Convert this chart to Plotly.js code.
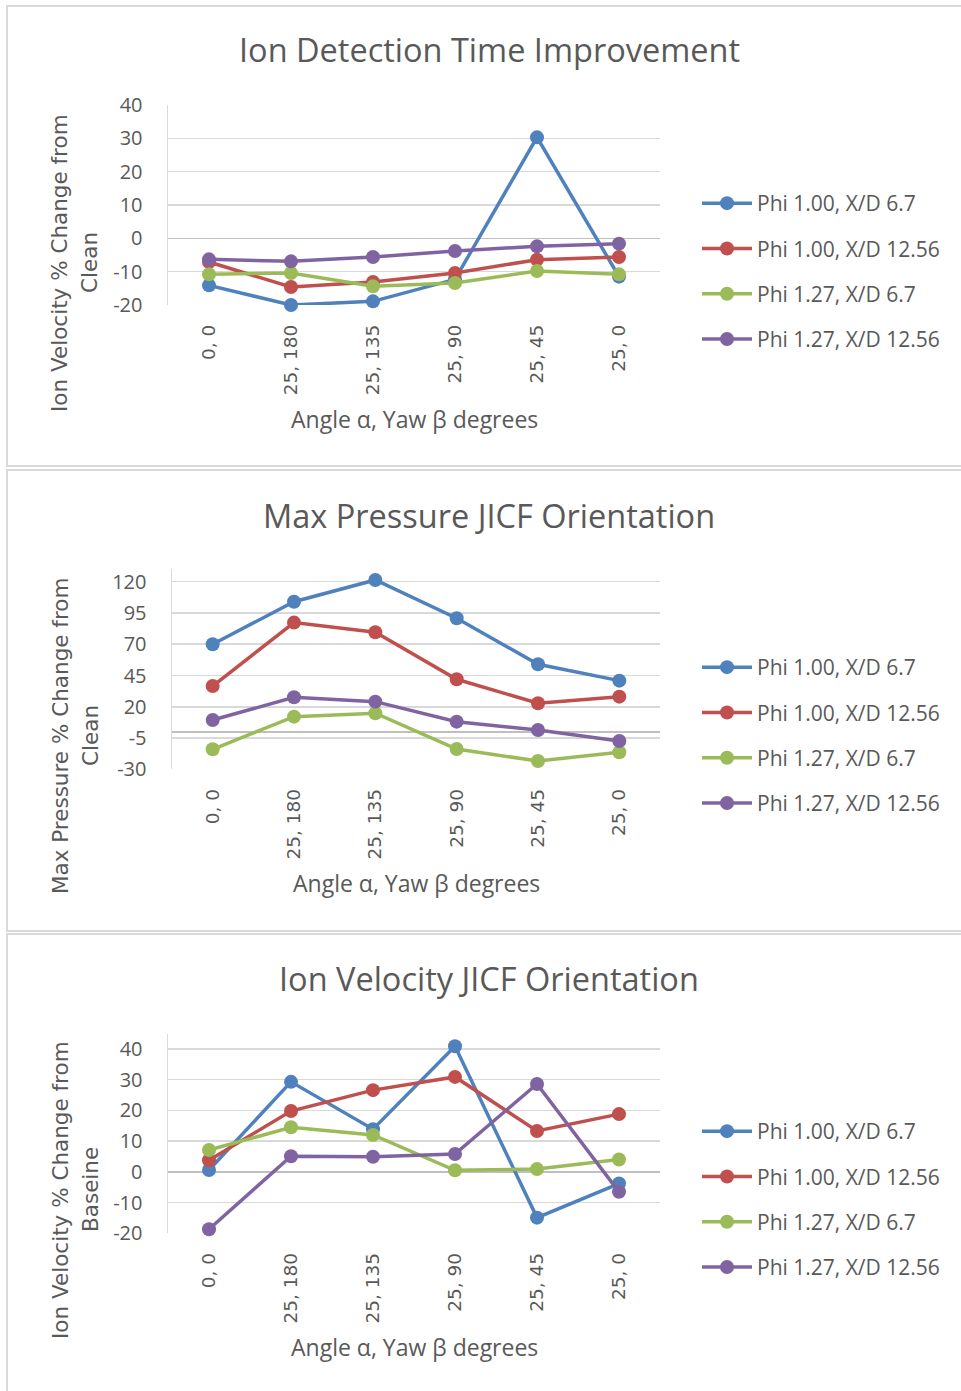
<!DOCTYPE html>
<html>
<head>
<meta charset="utf-8">
<script src="https://cdn.plot.ly/plotly-3.0.1.min.js"></script>
<style>
html,body{margin:0;padding:0;background:#fff;overflow:hidden;}
#chart{width:961px;height:1391px;}
</style>
</head>
<body>
<div id="chart"></div>
<script>
// ---------- data ----------
const categories = ["0, 0", "25, 180", "25, 135", "25, 90", "25, 45", "25, 0"];
const seriesNames = ["Phi 1.00, X/D 6.7", "Phi 1.00, X/D 12.56", "Phi 1.27, X/D 6.7", "Phi 1.27, X/D 12.56"];
const seriesColors = ["#4F81BD", "#C0504D", "#9BBB59", "#8064A2"];

const chartTitles = ["Ion Detection Time Improvement", "Max Pressure JICF Orientation", "Ion Velocity JICF Orientation"];
const yTitleLine1 = ["Ion Velocity % Change from", "Max Pressure % Change from", "Ion Velocity % Change from"];
const yTitleLine2 = ["Clean", "Clean", "Baseine"];
const xTitle = "Angle α, Yaw β degrees";

// Ion Detection Time Improvement
const idt_phi100_xd67   = [-14.1, -20.0, -18.9, -12.3, 30.3, -11.5];
const idt_phi100_xd1256 = [-7.1, -14.6, -13.1, -10.4, -6.4, -5.6];
const idt_phi127_xd67   = [-10.8, -10.4, -14.4, -13.4, -9.8, -10.8];
const idt_phi127_xd1256 = [-6.3, -6.9, -5.6, -3.8, -2.4, -1.6];

// Max Pressure JICF Orientation
const mp_phi100_xd67   = [70.0, 104.0, 121.4, 90.8, 54.0, 40.9];
const mp_phi100_xd1256 = [36.6, 87.3, 79.6, 42.0, 22.8, 28.1];
const mp_phi127_xd67   = [-14.0, 12.1, 14.8, -13.8, -23.4, -16.4];
const mp_phi127_xd1256 = [9.4, 27.6, 24.1, 8.1, 1.4, -7.4];

// Ion Velocity JICF Orientation
const iv_phi100_xd67   = [0.6, 29.3, 13.9, 40.9, -14.9, -3.8];
const iv_phi100_xd1256 = [3.8, 19.8, 26.6, 30.9, 13.3, 18.8];
const iv_phi127_xd67   = [7.1, 14.5, 12.0, 0.5, 0.9, 4.0];
const iv_phi127_xd1256 = [-18.7, 5.1, 4.9, 5.8, 28.6, -6.5];

const yTicks1 = [-20, -10, 0, 10, 20, 30, 40];
const yTicks2 = [-30, -5, 20, 45, 70, 95, 120];
const yTicks3 = [-20, -10, 0, 10, 20, 30, 40];

// ---------- layout helpers ----------
const W = 961, H = 1391;
const px = v => v / W;
const py = v => 1 - v / H;
const TXT = "#595959";
const GRID = "#D9D9D9";

const panels = [
  {series:[idt_phi100_xd67, idt_phi100_xd1256, idt_phi127_xd67, idt_phi127_xd1256],
   ticks:yTicks1, range:[-20, 40], xd:[168, 660], yd:[105, 305], box:[6, 466],
   titleY:50, yTitleY:263, xTitleY:419, legTop:183},
  {series:[mp_phi100_xd67, mp_phi100_xd1256, mp_phi127_xd67, mp_phi127_xd1256],
   ticks:yTicks2, range:[-30, 130], xd:[172, 660], yd:[569.2, 769.3], box:[470, 931],
   titleY:515, yTitleY:736, xTitleY:883, legTop:647},
  {series:[iv_phi100_xd67, iv_phi100_xd1256, iv_phi127_xd67, iv_phi127_xd1256],
   ticks:yTicks3, range:[-20, 45], xd:[168, 660], yd:[1033.6, 1233.3], box:[934, 1420],
   titleY:978, yTitleY:1190, xTitleY:1347, legTop:1111}
];

const traces = [];
const layout = {
  width: W, height: H,
  margin: {l:0, r:0, t:0, b:0},
  paper_bgcolor: "#fff", plot_bgcolor: "#fff",
  font: {family: "Open Sans", color: TXT},
  shapes: [], annotations: []
};

panels.forEach((p, i) => {
  const n = i + 1;
  const xa = n === 1 ? "xaxis" : "xaxis" + n;
  const ya = n === 1 ? "yaxis" : "yaxis" + n;
  const lg = n === 1 ? "legend" : "legend" + n;
  layout[xa] = {
    domain: [px(p.xd[0]), px(p.xd[1])],
    anchor: n === 1 ? "y" : "y" + n,
    type: "category", range: [-0.5, 5.5],
    showgrid: false, zeroline: false, showline: false,
    ticks: "", tickangle: -90, ticklabelstandoff: 15,
    tickfont: {family: "DejaVu Sans", size: 18.5, color: TXT},
    automargin: false, fixedrange: true
  };
  layout[ya] = {
    domain: [py(p.yd[1]), py(p.yd[0])],
    anchor: n === 1 ? "x" : "x" + n,
    range: p.range, tickmode: "array", tickvals: p.ticks,
    ticktext: p.ticks.map(v => String(v)),
    showgrid: true, gridcolor: GRID, gridwidth: 1.5,
    zeroline: true, zerolinecolor: "#BFBFBF", zerolinewidth: 1.5,
    showline: true, linecolor: GRID, linewidth: 1.5,
    ticks: "", ticklabelstandoff: 20,
    tickfont: {family: "Open Sans", size: 20, color: TXT},
    automargin: false, fixedrange: true
  };
  layout[lg] = {
    x: px(697), y: py(p.legTop), xanchor: "left", yanchor: "top",
    font: {family: "Open Sans", size: 21, color: TXT},
    bgcolor: "rgba(0,0,0,0)", itemwidth: 50, tracegroupgap: 15,
    traceorder: "grouped"
  };
  p.series.forEach((vals, k) => {
    traces.push({
      type: "scatter", mode: "lines+markers",
      x: categories, y: vals, name: seriesNames[k],
      xaxis: n === 1 ? "x" : "x" + n, yaxis: n === 1 ? "y" : "y" + n,
      legend: lg, legendgroup: "g" + n + "_" + k,
      line: {color: seriesColors[k], width: 3.5},
      marker: {color: seriesColors[k], size: 14},
      cliponaxis: false,
      hoverinfo: "skip"
    });
  });
  // panel border
  layout.shapes.push({type: "rect", xref: "paper", yref: "paper",
    x0: px(7), x1: px(975), y0: py(p.box[0]), y1: py(p.box[1]),
    line: {color: GRID, width: 2}, fillcolor: "rgba(0,0,0,0)", layer: "below"});
  // chart title
  layout.annotations.push({xref: "paper", yref: "paper", x: px(489), y: py(p.titleY),
    xanchor: "center", yanchor: "middle", showarrow: false, text: chartTitles[i],
    font: {family: "Open Sans", size: 32.5, color: TXT}});
  // y title (two lines)
  layout.annotations.push({xref: "paper", yref: "paper", x: px(60), y: py(p.yTitleY),
    xanchor: "center", yanchor: "middle", showarrow: false, textangle: -90,
    text: yTitleLine1[i], font: {family: "DejaVu Sans", size: 21.5, color: TXT}});
  layout.annotations.push({xref: "paper", yref: "paper", x: px(90), y: py(p.yTitleY),
    xanchor: "center", yanchor: "middle", showarrow: false, textangle: -90,
    text: yTitleLine2[i], font: {family: "DejaVu Sans", size: 21.5, color: TXT}});
  // x title
  layout.annotations.push({xref: "paper", yref: "paper", x: px((p.xd[0] + p.xd[1]) / 2), y: py(p.xTitleY),
    xanchor: "center", yanchor: "middle", showarrow: false, text: xTitle,
    font: {family: "Open Sans", size: 23, color: TXT}});
});

Plotly.newPlot("chart", traces, layout, {staticPlot: true, displayModeBar: false});
</script>
</body>
</html>
